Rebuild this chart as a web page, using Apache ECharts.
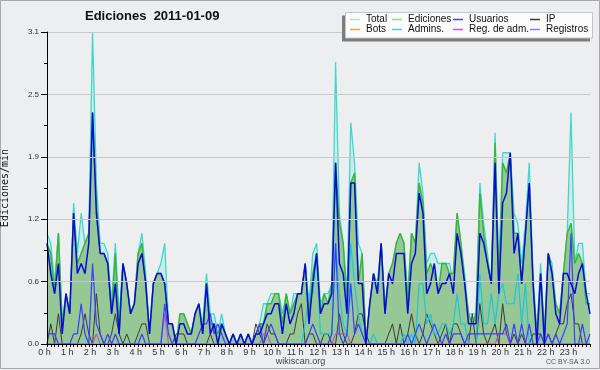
<!DOCTYPE html>
<html><head><meta charset="utf-8">
<script src="https://cdn.jsdelivr.net/npm/echarts@6/dist/echarts.min.js"></script>
<style>html,body{margin:0;padding:0;background:#edeef0}#c{width:600px;height:370px}</style>
</head><body><div id="c"></div><script>
// 10-minute slots over the day
const times = [];
for (let h = 0; h < 24; h++) for (let m = 0; m < 60; m += 10) times.push((h < 10 ? '0' : '') + h + ':' + (m === 0 ? '00' : m));
const xTickLabels = ['0 h','1 h','2 h','3 h','4 h','5 h','6 h','7 h','8 h','9 h','10 h','11 h','12 h','13 h','14 h','15 h','16 h','17 h','18 h','19 h','20 h','21 h','22 h','23 h'];
const yTicks = [0, 0.62, 1.24, 1.86, 2.48, 3.1];

const total = [
1.1,1.0,0.6,1.1,0.2,0.5,0.3,1.4,0.9,1.3,1.0,1.1,3.1,1.6,1.0,1.0,0.9,0.4,1.0,0.3,0.8,0.6,0.3,0.4,0.9,1.1,0.7,0.1,0.6,0.7,0.8,1.0,0.2,0.2,0.0,0.2,
0.3,0.2,0.1,0.3,0.4,0.2,0.7,0.3,0.3,0.1,0.3,0.1,0,0.1,0,0.1,0,0.1,0,0.1,0.2,0.4,0.4,0.5,0.5,0.5,0.3,0.5,0.3,0.5,0.5,0.5,0.8,0.4,0.9,1.0,
0.4,0.5,0.5,0.6,2.8,1.3,1.0,0.5,2.2,1.8,1.0,0.9,0.0,0.4,0.7,0.6,1.0,0.4,0.7,0.8,1.0,1.1,1.0,0.5,1.1,1.0,1.8,1.5,0.8,0.9,0.9,0.8,0.8,0.8,0.8,0.6,
1.3,1.0,0.7,0.3,0.3,0.3,1.6,1.2,0.9,0.6,2.1,0.7,1.9,1.9,1.9,1.3,1.2,0.8,1.2,1.8,0.7,0.1,0.8,0.1,0.9,0.8,0.4,0.3,0.7,1.1,2.3,0.8,1.0,1.0,0.5,0.5];
const ediciones = [
1.0,0.9,0.5,1.1,0.2,0.5,0.3,1.3,0.8,0.9,1.0,1.1,2.3,1.4,0.9,0.9,0.8,0.3,0.9,0.1,0.8,0.6,0.3,0.4,0.9,1.0,0.6,0.1,0.6,0.7,0.7,0.6,0.2,0.2,0.0,0.3,
0.3,0.2,0.1,0.3,0.4,0.1,0.6,0.2,0.2,0.1,0.2,0.1,0,0.1,0,0.1,0,0.1,0,0.1,0.2,0.2,0.4,0.4,0.5,0.5,0.2,0.5,0.3,0.4,0.5,0.5,0.8,0.3,0.7,0.9,
0.3,0.5,0.4,0.6,1.8,1.2,1.0,0.4,1.6,1.7,0.6,0.9,0.0,0.4,0.7,0.5,1.0,0.3,0.7,0.8,1.0,1.1,1.0,0.4,1.1,1.0,1.6,1.4,0.7,0.8,0.7,0.5,0.8,0.8,0.7,0.7,
1.3,1.0,0.6,0.3,0.2,0.3,1.5,1.1,0.8,0.6,2.0,0.6,1.8,1.7,1.9,1.1,1.1,0.6,1.1,1.6,0.6,0.1,0.7,0.1,0.9,0.7,0.4,0.3,0.7,1.1,1.2,0.8,0.9,0.8,0.4,0.4];
const usuarios = [
1.0,0.7,0.5,0.8,0.1,0.5,0.3,1.3,0.7,0.8,0.7,1.0,2.3,1.3,0.9,0.9,0.8,0.3,0.6,0.1,0.8,0.6,0.3,0.4,0.8,0.9,0.6,0.1,0.6,0.7,0.7,0.6,0.2,0.2,0.0,0.2,
0.2,0.1,0.1,0.3,0.4,0.1,0.6,0.1,0.2,0,0.2,0.1,0,0.1,0,0.1,0,0.1,0,0.1,0.1,0.2,0.3,0.3,0.4,0.4,0.1,0.4,0.2,0.3,0.5,0.5,0.8,0.2,0.6,0.9,
0.3,0.4,0.4,0.5,1.8,0.8,0.7,0.3,1.6,1.6,0.6,0.6,0.0,0.4,0.7,0.5,1.0,0.3,0.7,0.6,0.9,0.9,0.9,0.3,0.8,0.9,1.5,1.3,0.5,0.6,0.8,0.5,0.6,0.6,0.7,0.5,
1.1,0.9,0.6,0.2,0.2,0.2,1.1,1.0,0.8,0.6,1.8,0.5,1.4,1.5,1.9,0.9,1.1,0.6,1.1,1.6,0.6,0.0,0.7,0.0,0.9,0.7,0.3,0.2,0.7,0.7,0.6,0.5,0.7,0.8,0.5,0.3];
const ip = [
0,0.2,0,0.3,0,0,0,0,0,0.1,0.3,0.1,0,0.5,0.1,0,0,0.1,0.3,0.1,0,0.1,0,0,0.1,0.2,0.2,0,0,0,0,0,0,0,0.1,0.1,
0.1,0,0,0,0,0,0,0.1,0,0,0,0,0,0,0,0,0,0,0,0.2,0.1,0,0.2,0.1,0.1,0,0,0,0.1,0.1,0.3,0.4,0,0.1,0.1,0,
0,0.1,0.1,0,0,0.3,0.1,0,0,0.1,0.3,0.3,0.1,0,0,0,0,0,0.1,0.2,0,0.2,0,0.1,0.3,0.1,0,0.1,0.3,0.2,0.1,0,0.1,0.2,0,0.2,
0.2,0.1,0,0,0.3,0,0.4,0.1,0,0.1,0.2,0,0.4,0.1,0,0.1,0,0.1,0,0,0.1,0.1,0.1,0,0.1,0,0.1,0.2,0.2,0.4,0.5,0.2,0.2,0,0,0];
const bots = new Array(144).fill(0);
const admins = [
0,0,0,0,0,0,0,0,0,0,0,0,0,0,0,0,0,0,0,0,0,0,0,0,0,0,0,0,0,0,0,0,0,0,0,0,
0,0,0,0,0,0,0,0,0,0,0,0,0,0,0,0,0,0,0,0,0,0,0,0,0,0,0,0,0,0,0,0,0.2,0.5,0.5,0.9,
0.1,0.1,0.1,0.1,1.0,0.5,0.2,0.1,1.0,0.6,0.3,0.1,0,0,0.1,0,0,0,0,0,0,0,0.1,0,0.1,0,0.6,0.6,0.2,0.3,0.1,0.1,0.2,0.2,0.1,0.2,
0.5,0.2,0.2,0,0,0,0.7,0.2,0.2,0.5,0.2,0.5,0.6,0.4,0.4,0.4,0.7,0.2,0.6,0,0,0,0,0,0,0,0,0,0,0,0,0,0,0,0,0];
const regAdm = [
0,0,0,0,0,0,0,0,0,0,0,0,0,0.1,0,0,0,0,0,0,0,0,0,0,0,0,0,0,0,0,0,0.3,0,0,0,0,
0,0,0,0,0,0,0,0,0,0,0,0,0,0,0,0,0,0,0,0,0,0.1,0.1,0,0,0,0,0,0,0,0,0,0,0,0,0,
0,0,0,0,0.1,0.1,0.1,0.1,0,0,0,0,0,0,0,0,0,0,0,0,0,0,0,0,0,0,0,0,0,0,0,0,0,0,0,0,
0,0,0,0,0,0,0,0,0,0,0,0.1,0.1,0.1,0,0,0,0,0,0,0,0,0,0,0,0,0,0,0,0,0,0,0,0,0,0];
const registros = [
0.1,0.1,0.1,0,0,0,0,0.1,0.1,0.4,0.1,0,0.8,0.2,0.1,0,0.1,0,0.1,0,0,0,0,0,0,0.1,0,0,0,0,0,0.4,0.1,0,0,0,
0,0,0,0,0.1,0.2,0.2,0.3,0.1,0.2,0.1,0,0,0,0,0,0,0,0,0.1,0.2,0,0.1,0.2,0.1,0,0,0,0,0,0,0,0,0.1,0.2,0.1,
0,0,0,0.1,1.0,0.1,0,0.1,0.6,0.1,0.2,0.1,0,0,0,0,0,0,0,0,0,0,0,0.1,0,0.1,0.2,0.1,0,0.1,0.2,0.1,0,0.1,0,0.1,
0.1,0.1,0,0.1,0.1,0.1,0.1,0.1,0.1,0.1,0.1,0.1,0.1,0.2,0,0.2,0,0.2,0,0.2,0,0,0.1,0,0.1,0,0.1,0,0.1,0.2,1.1,0,0,0.2,0,0.1];

const seriesNames = ['Total','Ediciones','Usuarios','IP','Bots','Admins.','Reg. de adm.','Registros'];
const legendColors = ['#a9e6de','#92d892','#4646d6','#3c3c3c','#f4a040','#5ec8d8','#d24ed8','#8282ea'];

const chart = echarts.init(document.getElementById('c'), null, {renderer:'canvas'});
const line = (name, data, color, width, z) => ({
  name, type:'line', data, symbol:'none', showSymbol:false, z,
  lineStyle:{color, width}, itemStyle:{color}, emphasis:{disabled:true}
});
const legendPos = [[350,14.5],[392,14.5],[453,14.5],[530,14.5],[350,24.5],[392,24.5],[453,24.5],[530,24.5]];
const legends = seriesNames.map((n,k)=>({
  data:[{name:n, itemStyle:{color:legendColors[k]}}], left:legendPos[k][0], top:legendPos[k][1],
  padding:0, itemWidth:10, itemHeight:1.5, icon:'rect', selectedMode:false, z:20,
  textStyle:{fontFamily:'Liberation Sans', fontSize:10, color:'#111', padding:[0,0,0,1]}
}));

chart.setOption({
  animation:false,
  backgroundColor:'#edeef0',
  grid:{left:47, right:10, top:32, bottom:26, containLabel:false, outerBoundsMode:'none'},
  legend: legends,
  xAxis:{
    type:'category', data:times, boundaryGap:false, z:10,
    axisLine:{lineStyle:{color:'#000', width:1}},
    axisTick:{show:true, interval:0, length:3, lineStyle:{color:'#000'}},
    axisLabel:{interval:(i)=>i%6===0, formatter:(v,i)=>xTickLabels[i/6], fontFamily:'Liberation Sans', fontSize:9, color:'#333', margin:4, padding:[0,5,0,0]},
    splitLine:{show:false}
  },
  yAxis:{
    type:'value', min:0, max:3.1, interval:0.62, z:10,
    name:'Ediciones/min', nameLocation:'middle', nameGap:37, nameRotate:90,
    nameTextStyle:{fontFamily:'DejaVu Sans Mono', fontSize:10, color:'#111'},
    axisLine:{show:true, lineStyle:{color:'#000'}},
    axisTick:{show:true, length:6, lineStyle:{color:'#000'}},
    minorTick:{show:true, splitNumber:2, length:3, lineStyle:{color:'#000'}},
    splitLine:{lineStyle:{color:'#c8c8c8'}},
    axisLabel:{formatter:(v)=>v.toFixed(1), fontFamily:'Liberation Sans', fontSize:8, color:'#333', margin:8}
  },
  series:[
    Object.assign(line('Total', total, '#3fd8ca', 1.3, 2), {areaStyle:{color:'rgba(70,222,208,0.28)'}}),
    Object.assign(line('Ediciones', ediciones, '#3cb43c', 1.5, 3), {areaStyle:{color:'#96c896', opacity:1}}),
    line('Bots', bots, '#f4a040', 1, 4),
    line('IP', ip, '#3a3a3a', 1, 5),
    line('Admins.', admins, '#1ec6da', 1.2, 5),
    line('Reg. de adm.', regAdm, '#c43ed4', 1, 5),
    line('Registros', registros, '#3c3cff', 1.2, 6),
    line('Usuarios', usuarios, '#0a0ad6', 1.5, 7)
  ],
  graphic:[
    {type:'rect', shape:{x:0.5,y:0.5,width:599,height:368}, style:{fill:'none', stroke:'#a8a8a8', lineWidth:1}, z:1},
    {type:'rect', shape:{x:342,y:15.5,width:248,height:26}, style:{fill:'#7c7c7c'}, z:15},
    {type:'rect', shape:{x:345.5,y:12.5,width:247,height:25.5}, style:{fill:'#fbfbfb', stroke:'#c4c4c4', lineWidth:1}, z:16},
    {type:'text', left:85, top:10, style:{text:'Ediciones  2011-01-09', font:'bold 13px "Liberation Sans"', fill:'#111'}, z:20},
    {type:'text', x:300.5, y:361.5, style:{text:'wikiscan.org', font:'9px "Liberation Sans"', fill:'#444', textAlign:'center', textVerticalAlign:'middle'}, z:20},
    {type:'text', x:590, y:362.5, style:{text:'CC BY-SA 3.0', font:'7px "Liberation Sans"', fill:'#555', textAlign:'right', textVerticalAlign:'middle'}, z:20}
  ]
});
</script></body></html>
